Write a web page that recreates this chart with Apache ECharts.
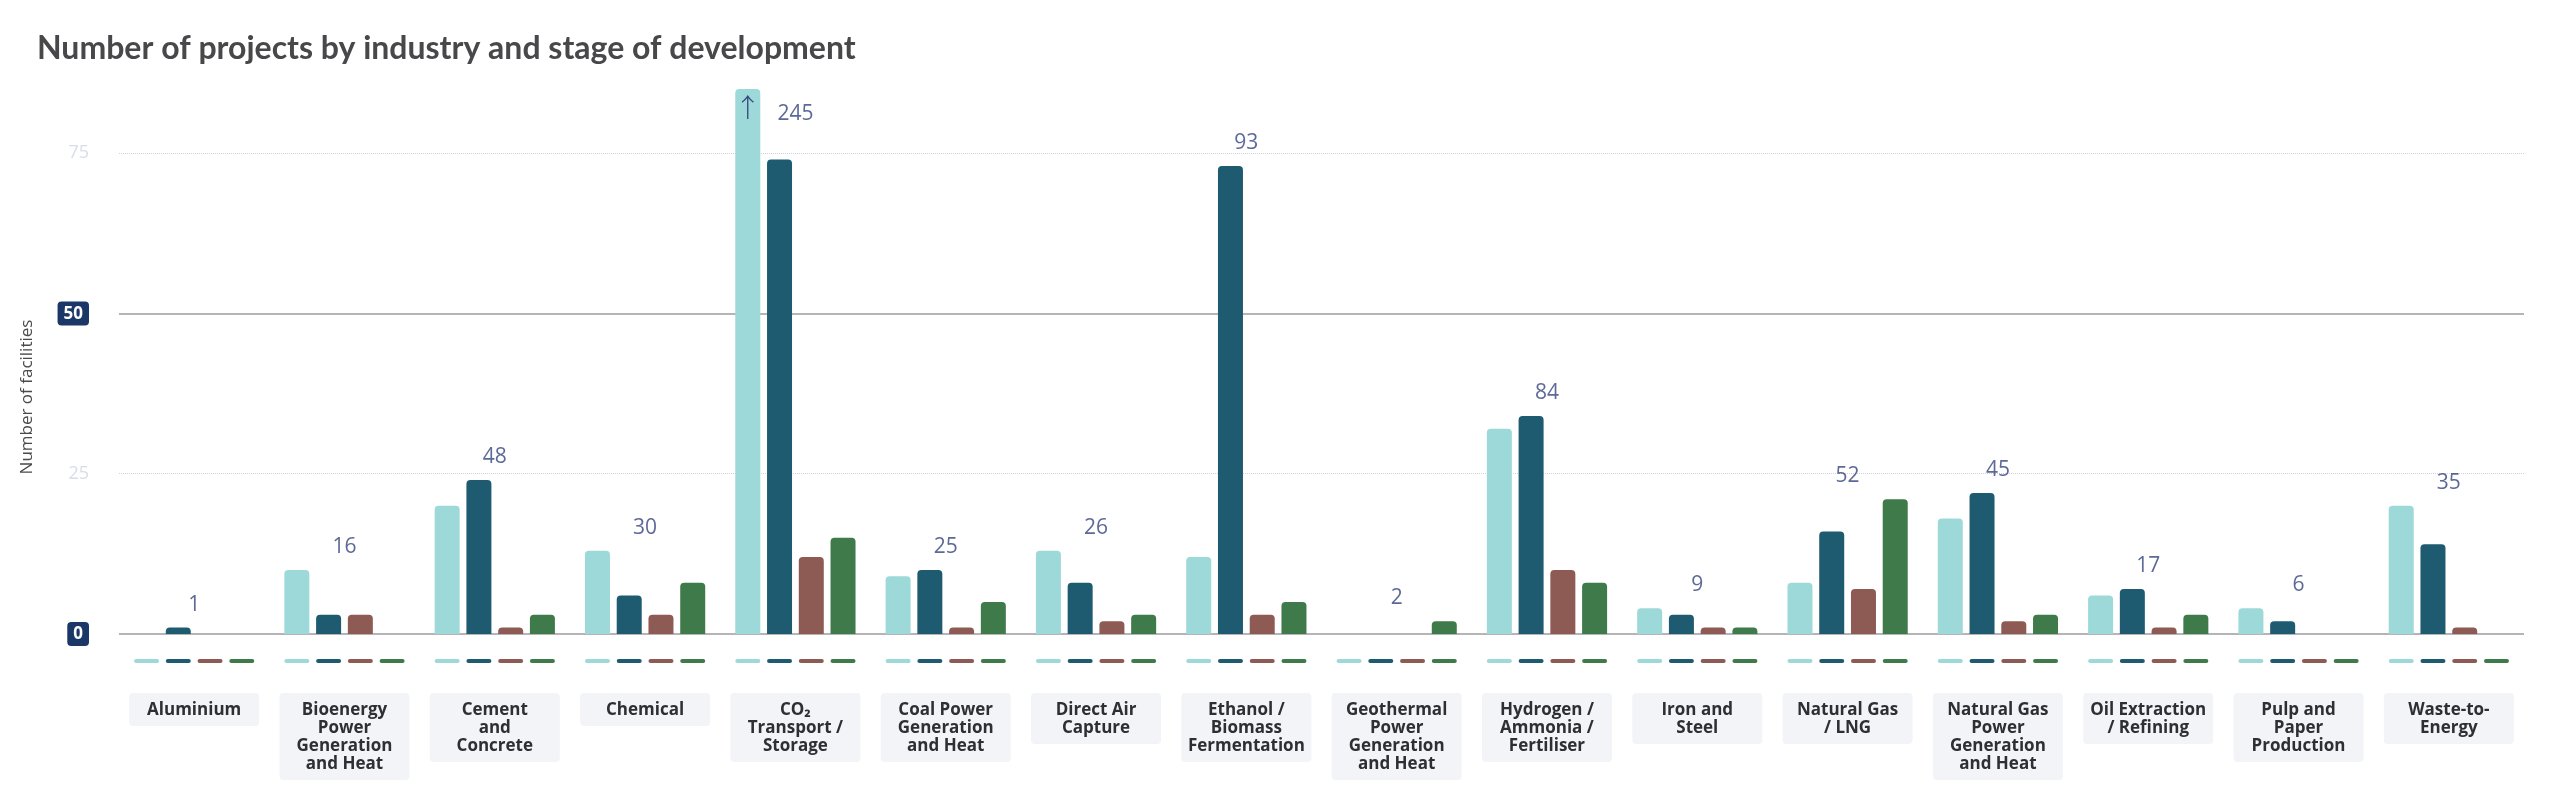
<!DOCTYPE html>
<html>
<head>
<meta charset="utf-8">
<title>Number of projects by industry and stage of development</title>
<script src="https://cdn.jsdelivr.net/npm/echarts@6.0.0/dist/echarts.min.js"></script>
<style>
	html, body { margin: 0; padding: 0; background: #fff; }
	#chart { width: 2554px; height: 798px; }
</style>
</head>
<body>
<div id="chart"></div>
<script>
var categories = [
	'Aluminium',
	'Bioenergy\nPower\nGeneration\nand Heat',
	'Cement\nand\nConcrete',
	'Chemical',
	'CO₂\nTransport /\nStorage',
	'Coal Power\nGeneration\nand Heat',
	'Direct Air\nCapture',
	'Ethanol /\nBiomass\nFermentation',
	'Geothermal\nPower\nGeneration\nand Heat',
	'Hydrogen /\nAmmonia /\nFertiliser',
	'Iron and\nSteel',
	'Natural Gas\n/ LNG',
	'Natural Gas\nPower\nGeneration\nand Heat',
	'Oil Extraction\n/ Refining',
	'Pulp and\nPaper\nProduction',
	'Waste-to-\nEnergy'
];

var stage_names = ['Early development', 'Advanced development', 'In construction', 'Operational'];
var early_dev = [0, 10, 20, 13, 144, 9, 13, 12, 0, 32, 4, 8, 18, 6, 4, 20];
var advanced_dev = [1, 3, 24, 6, 74, 10, 8, 73, 0, 34, 3, 16, 22, 7, 2, 14];
var in_construction = [0, 3, 1, 3, 12, 1, 2, 3, 0, 10, 1, 7, 2, 1, 0, 1];
var operational = [0, 0, 3, 8, 15, 5, 3, 5, 2, 8, 1, 21, 3, 3, 0, 0];

var y_ticks = [0, 25, 50, 75];
var y_badges = [0, 50];
var y_max = 85;

var colors = ['#9dd9d8', '#1e5b70', '#8e5a54', '#3f7a4b'];
var label_color = '#34447e';

var stage_values = [early_dev, advanced_dev, in_construction, operational];

// total per industry, and where its label sits (top of the tallest bar, clipped to the axis)
var totals = categories.map(function (c, i) {
	return stage_values.reduce(function (s, arr) { return s + arr[i]; }, 0);
});
var group_top = categories.map(function (c, i) {
	var m = Math.max.apply(null, stage_values.map(function (arr) { return arr[i]; }));
	return Math.min(m, y_max);
});

var series = [];

stage_values.forEach(function (values, k) {
	series.push({
		name: stage_names[k],
		type: 'bar',
		xAxisIndex: 0,
		yAxisIndex: 0,
		barWidth: 25,
		barGap: '27%',
		itemStyle: { color: colors[k], borderRadius: [4, 4, 0, 0] },
		data: values.map(function (v) {
			if (v > y_max) {
				// bar runs off the axis: mark it with an arrow
				return {
					value: v,
					label: { show: true, position: 'insideTop', distance: 5, formatter: '↑', color: label_color, fontSize: 26, fontWeight: 300, fontFamily: 'Noto Sans CJK JP' }
				};
			}
			return v;
		})
	});
});

series.push({
	name: 'total',
	type: 'scatter',
	xAxisIndex: 0,
	yAxisIndex: 0,
	symbolSize: 1,
	silent: true,
	clip: false,
	itemStyle: { color: 'rgba(0,0,0,0)' },
	label: { color: label_color, fontSize: 21, fontFamily: 'Open Sans' },
	data: group_top.map(function (v, i) {
		var clipped = v >= y_max;
		return {
			value: v,
			label: {
				show: true,
				position: clipped ? 'bottom' : 'top',
				distance: clipped ? 14 : 12,
				formatter: String(totals[i])
			}
		};
	})
});

// small colour keys under each group
stage_values.forEach(function (values, k) {
	series.push({
		name: stage_names[k] + ' key',
		type: 'bar',
		xAxisIndex: 1,
		yAxisIndex: 2,
		barWidth: 25,
		barGap: '27%',
		silent: true,
		itemStyle: { color: colors[k], borderRadius: 2 },
		data: categories.map(function () { return 1; })
	});
});

var chart = echarts.init(document.getElementById('chart'));

var option = {
	animation: false,
	textStyle: { fontFamily: 'Open Sans' },
	title: {
		text: 'Number of projects by industry and stage of development',
		left: 32,
		top: 28,
		textStyle: { fontFamily: 'Lato', fontSize: 32, fontWeight: 'bold', color: '#48484b' }
	},
	grid: [
		{ left: 119, right: 30, top: 89, bottom: 164, outerBoundsMode: 'none' },
		{ left: 119, right: 30, top: 659, height: 4, outerBoundsMode: 'none' }
	],
	xAxis: [
		{
			type: 'category',
			gridIndex: 0,
			data: categories,
			axisLine: { show: false },
			axisTick: { show: false },
			axisLabel: { show: false }
		},
		{
			type: 'category',
			gridIndex: 1,
			data: categories,
			axisLine: { show: false },
			axisTick: { show: false },
			axisLabel: {
				interval: 0,
				margin: 30,
				fontSize: 17,
				fontWeight: 'bold',
				color: '#2e2e33',
				lineHeight: 18,
				width: 120,
				align: 'center',
				backgroundColor: '#f3f4f8',
				borderRadius: 4,
				padding: [8, 5, 7, 5]
			}
		}
	],
	yAxis: [
		{
			type: 'value',
			gridIndex: 0,
			min: 0,
			max: y_max,
			interval: 25,
			axisLine: { show: false },
			axisTick: { show: false },
			splitLine: {
				show: true,
				showMaxLine: false,
				lineStyle: { type: 'dotted', color: '#cfd2d9', width: 1 }
			},
			axisLabel: {
				margin: 30,
				formatter: function (v) {
					if (y_badges.indexOf(v) >= 0) return '{badge|' + v + '}';
					if (y_ticks.indexOf(v) >= 0) return '{faint|' + v + '}';
					return '';
				},
				rich: {
					badge: {
						backgroundColor: '#1b3768',
						color: '#fff',
						fontWeight: 'bold',
						fontSize: 17,
						borderRadius: 4,
						padding: [4, 6, 3, 6]
					},
					faint: { color: '#d9dde8', fontSize: 18 }
				}
			}
		},
		{
			type: 'value',
			gridIndex: 0,
			min: 0,
			max: y_max,
			interval: 50,
			axisLine: { show: false },
			axisTick: { show: false },
			axisLabel: { show: false },
			splitLine: {
				show: true,
				showMaxLine: false,
				lineStyle: { type: 'solid', color: '#b5b5b8', width: 2 }
			}
		},
		{
			type: 'value',
			gridIndex: 1,
			min: 0,
			max: 1,
			show: false
		}
	],
	graphic: [
		{
			type: 'text',
			x: 27,
			y: 397,
			rotation: Math.PI / 2,
			style: {
				text: 'Number of facilities',
				fill: '#4a4a4a',
				font: '17px "Open Sans"',
				align: 'center',
				verticalAlign: 'middle'
			}
		}
	],
	series: series
};

chart.setOption(option);
</script>
</body>
</html>
